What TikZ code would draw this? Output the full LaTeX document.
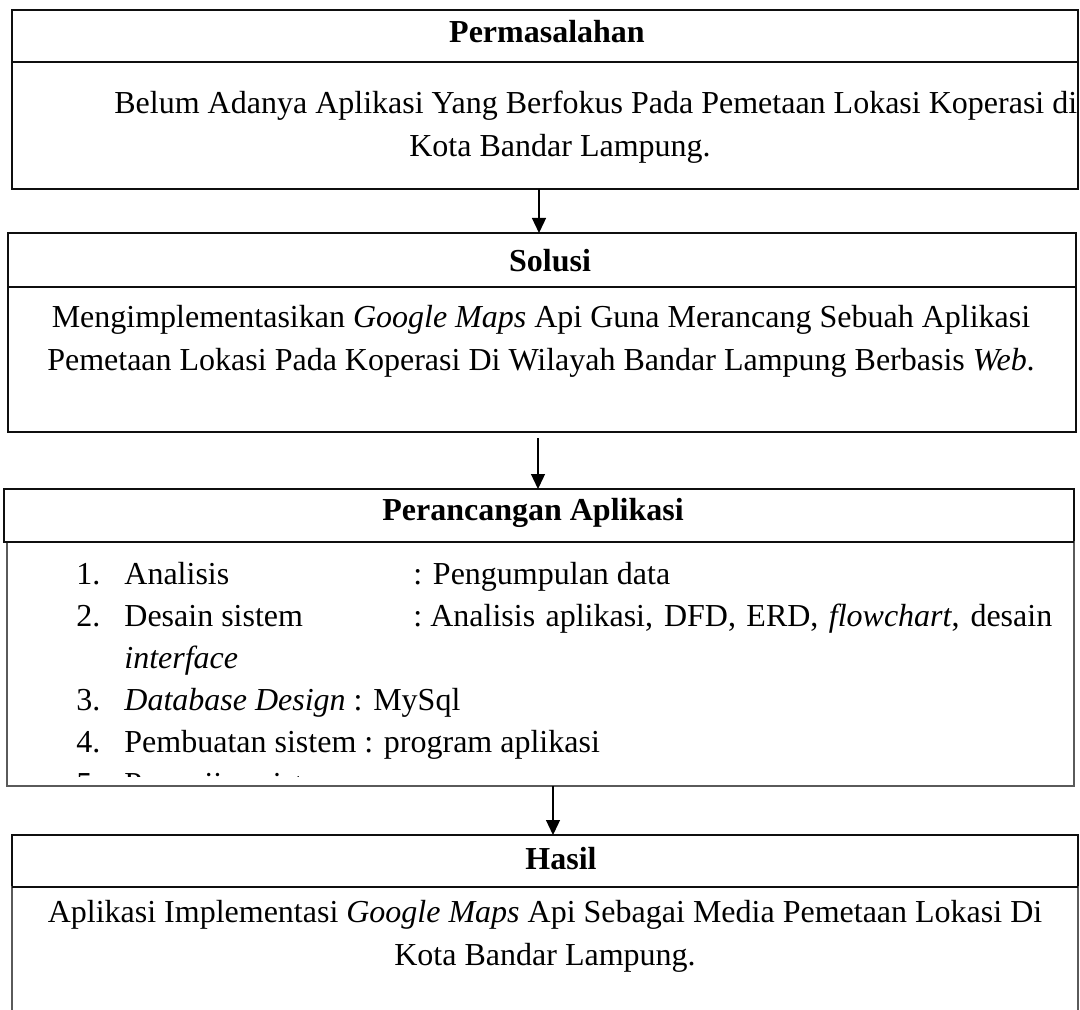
\documentclass[tikz,border=0pt]{standalone}
\usepackage{fontspec}
\setmainfont{Liberation Serif}
\usetikzlibrary{arrows.meta, positioning}
\definecolor{edgeDark}{RGB}{15,15,15}
\definecolor{edgeGray}{RGB}{90,90,90}

\begin{document}
\begin{tikzpicture}[x=0.5pt, y=-0.5pt,
    headbox/.style={draw=edgeDark, line width=1.3pt, anchor=north west, inner sep=0pt, outer sep=0pt},
    bodybox/.style={draw=edgeGray, line width=0.85pt, anchor=north west, inner sep=0pt, outer sep=0pt},
    title/.style={font=\fontsize{16pt}{21.5pt}\selectfont\bfseries, anchor=base, inner sep=0pt},
    txt/.style={font=\fontsize{16pt}{21.5pt}\selectfont, anchor=base, inner sep=0pt},
    item/.style={txt, anchor=base west},
    flow/.style={-{Triangle[length=7.5pt, width=7pt]}, line width=0.65pt}
  ]
  \clip (0,0) rectangle (1080,1010);
  \fill[white] (0,0) rectangle (1080,1010);

  % frames
  \node[headbox, minimum width=533pt, minimum height=26pt] (permHead) at (12,10) {};
  \node[bodybox, draw=edgeDark, line width=1.3pt, minimum width=533pt, minimum height=63.5pt] (permBody) at (permHead.south west) {};
  \node[headbox, minimum width=534pt, minimum height=27pt] (solHead) at (8,233) {};
  \node[bodybox, draw=edgeDark, line width=1.05pt, minimum width=534pt, minimum height=72.5pt] (solBody) at (solHead.south west) {};
  \node[headbox, minimum width=535pt, minimum height=26.5pt] (rancHead) at (4,489) {};
  \node[bodybox, minimum width=533.5pt, minimum height=122pt] (rancBody) at ([xshift=1.5pt]rancHead.south west) {};
  \node[headbox, minimum width=533pt, minimum height=26pt] (hasHead) at (12,835) {};
  \node[bodybox, minimum width=533pt, minimum height=75pt] (hasBody) at (hasHead.south west) {};
  \draw[headbox] (permHead.south west) -- (permHead.south east);
  \draw[headbox] (solHead.south west) -- (solHead.south east);
  \draw[headbox] (rancHead.south west) -- (rancHead.south east);
  \draw[headbox] (hasHead.south west) -- (hasHead.south east);

  % titles
  \node[title] (permTitle) at (547,43) {Permasalahan};
  \node[title] (solTitle) at (550,272) {Solusi};
  \node[title] (rancTitle) at (533,520) {Perancangan Aplikasi};
  \node[title] (hasTitle) at (561,869) {Hasil};

  % body texts
  \begin{scope}
    \clip (permBody.north west) rectangle (permBody.south east);
    \node[item] (permL1) at (114,114) {Belum Adanya Aplikasi Yang Berfokus Pada Pemetaan Lokasi Koperasi di};
    \node[txt] (permL2) at (560,157) {Kota Bandar Lampung.};
  \end{scope}
  \node[txt] (solL1) at (541,328) {Mengimplementasikan \textit{Google Maps} Api Guna Merancang Sebuah Aplikasi};
  \node[txt] (solL2) at (541,371) {Pemetaan Lokasi Pada Koperasi Di Wilayah Bandar Lampung Berbasis \textit{Web}.};
  \begin{scope}
    \clip ([yshift=-1pt]rancBody.north west) rectangle ([yshift=5pt]rancBody.south east);
    \foreach \k/\yy in {1/584, 2/626, 3/710, 4/752, 5/794}
      \node[item] (num\k) at (76,\yy) {\k.};
    \node[item] (step1) at (124,584) {Analisis};
    \node[item] (desc1) at (413,584) {: Pengumpulan data};
    \node[item] (step2) at (124,626) {Desain sistem};
    \node[item] (desc2) at (413,626) {:~\makebox[311pt][s]{Analisis aplikasi, DFD, ERD, \textit{flowchart}, desain}};
    \node[item] (desc2b) at (124,668) {\textit{interface}};
    \node[item] (step3) at (124,710) {\textit{Database Design} : MySql};
    \node[item] (step4) at (124,752) {Pembuatan sistem : program aplikasi};
    \node[item] (step5) at (124,794) {Pengujian sistem};
  \end{scope}
  \node[txt] (hasL1) at (545,922) {Aplikasi Implementasi \textit{Google Maps} Api Sebagai Media Pemetaan Lokasi Di};
  \node[txt] (hasL2) at (545,965) {Kota Bandar Lampung.};

  % connectors
  \coordinate (ax1) at (539,0);
  \coordinate (ax2) at (538,0);
  \coordinate (ax3) at (553,0);
  \draw[flow] (permBody.south -| ax1) -- (solHead.north -| ax1);
  \draw[flow] ([yshift=-3pt]solBody.south -| ax2) -- (rancHead.north -| ax2);
  \draw[flow] (rancBody.south -| ax3) -- (hasHead.north -| ax3);
\end{tikzpicture}
\end{document}
